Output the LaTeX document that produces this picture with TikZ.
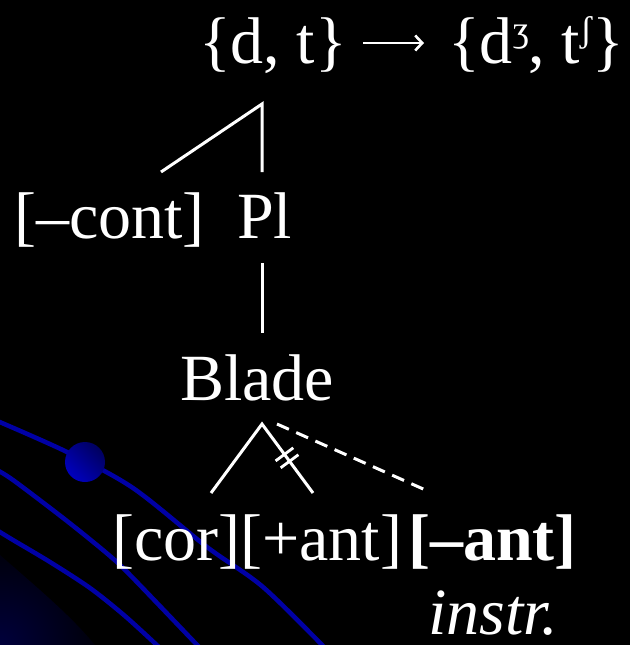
\documentclass[tikz,border=0pt]{standalone}
\usepackage{fontspec}
\setmainfont{Liberation Serif}
\usetikzlibrary{calc,arrows.meta}
\definecolor{orbitblue}{RGB}{0,0,165}
\definecolor{glownavy}{RGB}{0,0,60}
\definecolor{balllight}{RGB}{0,0,190}
\definecolor{balldark}{RGB}{0,0,95}
\newcommand\raisedipa[1]{\raisebox{22pt}{\fontsize{36}{36}\selectfont #1}}
\begin{document}
\begin{tikzpicture}[x=1pt,y=-1pt,
  lbl/.style={text=white,inner sep=0pt,font=\fontsize{66}{72}\selectfont},
  branch/.style={draw=white,line width=3pt},
  dashbranch/.style={branch,dash pattern=on 13pt off 8pt},
  strike/.style={draw=white,line width=2.8pt},
  orbit/.style={draw=orbitblue,line width=4.5pt},
  maparrow/.style={draw=white,line width=2.6pt,-{Straight Barb[length=7pt,width=15pt,line width=2.6pt]}},
]
\useasboundingbox (0,0) rectangle (630,645);
\fill[black] (0,0) rectangle (630,645);
% corner glow
\begin{scope}
\clip (0,555) .. controls (40,590) and (70,615) .. (95,645) -- (0,645) -- cycle;
\fill[inner color=glownavy, outer color=black] (0,645) circle (115);
\end{scope}
% orbits
\draw[orbit] plot[smooth] coordinates {(-5,420) (67,452) (133,488) (207,547) (263,587) (325,648)};
\draw[orbit] plot[smooth] coordinates {(-5,469) (13,480) (67,521) (110,556) (133,578) (200,648)};
\draw[orbit] plot[smooth] coordinates {(-5,529) (13,540) (50,562) (90,588) (125,616) (160,648)};
\shade[top color=balldark, bottom color=balllight, shading angle=-45] (85,462) circle (20);
% text
\node[lbl,anchor=base west] (src) at (199,63) {\{d, t\}};
\node[lbl,anchor=base west] (tgt) at (448,63) {\{d\raisedipa{ʒ}, t\raisedipa{ʃ}\}};
\coordinate (arrS) at (363,43);
\coordinate (arrE) at (424,43);
\draw[maparrow] (arrS) -- (arrE);
\node[lbl,anchor=base west] (cont) at (14,238) {[–cont]};
\node[lbl,anchor=base west] (pl) at (237,238) {Pl};
\node[lbl,anchor=base] (blade) at (257,400) {Blade};
\node[lbl,anchor=base west] (feat) at (112,560) {[cor][+ant]\hspace{6pt}\textbf{[–ant]}};
\node[lbl,anchor=base west,text depth=0pt] (instr) at (428,634) {\textit{instr.}};
% tree
\coordinate (a1) at (262,104);
\coordinate (c1) at (161,172);
\coordinate (p1) at (262,172);
\coordinate (p2) at (262,263);
\coordinate (b1) at (262,333);
\coordinate (a2) at (262,424);
\coordinate (l2) at (211,493);
\coordinate (r2) at (313,493);
\coordinate (d1) at (277,424);
\coordinate (d2) at (430,492);
\draw[branch] (c1) -- (a1) -- (p1);
\draw[branch] (p2) -- (b1);
\draw[branch] (l2) -- (a2) -- (r2);
\draw[dashbranch] (d1) -- (d2);
\path (a2) -- (r2) coordinate[pos=0.44] (s1) coordinate[pos=0.54] (s2);
\draw[strike] ($(s1)!11pt!90:(r2)$) -- ($(s1)!11pt!-90:(r2)$);
\draw[strike] ($(s2)!11pt!90:(r2)$) -- ($(s2)!11pt!-90:(r2)$);
\end{tikzpicture}
\end{document}
